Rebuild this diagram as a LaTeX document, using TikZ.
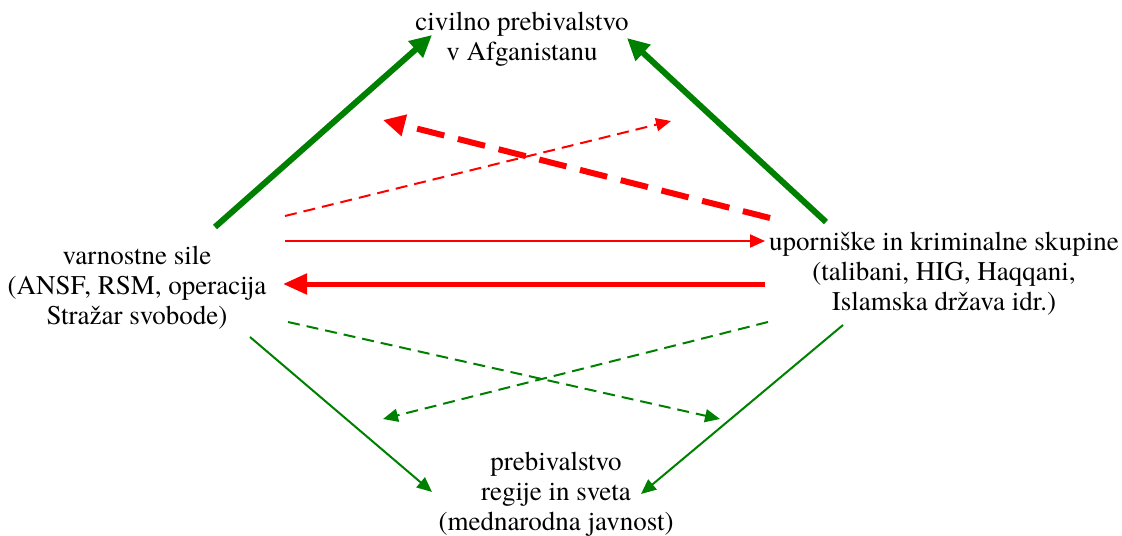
\documentclass[tikz,border=0pt]{standalone}
\usepackage{fontspec}
\setmainfont{texgyretermes}[Extension=.otf, UprightFont=*-regular, BoldFont=*-bold]
\usetikzlibrary{arrows.meta}
\definecolor{darkgreen}{RGB}{0, 128, 0}
\definecolor{pureRed}{RGB}{255, 0, 0}

\begin{document}
\begin{tikzpicture}[x=0.5pt, y=-0.5pt,
    group/.style={align=center, font=\fontsize{13.5}{15}\selectfont, inner sep=0pt},
    thinarrow/.style={line width=1pt, -{Triangle[length=7.5pt, width=6.5pt]}},
    thickarrow/.style={line width=3pt, -{Triangle[length=11pt, width=10.5pt]}},
    thindash/.style={dash pattern=on 6pt off 3.5pt}]
          \useasboundingbox (0,0) rectangle (1122,535);
          % Groups
          \node[group] (civil) at (522,39) {civilno prebivalstvo\\v Afganistanu};
          \node[group] (forces) at (137,288) {varnostne sile\\(ANSF, RSM, operacija\\Stražar svobode)};
          \node[group] (insurg) at (944,274) {uporniške in kriminalne skupine\\(talibani, HIG, Haqqani,\\Islamska država idr.)};
          \node[group] (world) at (556,494) {prebivalstvo\\regije in sveta\\(mednarodna javnost)};
          % Arrow ends
          \coordinate (fUp) at (215,227);   \coordinate (cL) at (432,35);
          \coordinate (iUp) at (826,222);   \coordinate (cR) at (627,38);
          \coordinate (iDash) at (770,218); \coordinate (dL) at (383,120);
          \coordinate (fDash) at (285,216); \coordinate (dR) at (671,121);
          \coordinate (fMid) at (285,241);  \coordinate (iMid) at (765,241);
          \coordinate (iLow) at (765,284);  \coordinate (fLow) at (283,284);
          \coordinate (fGd) at (288,322);   \coordinate (gR) at (720,419);
          \coordinate (iGd) at (768,322);   \coordinate (gL) at (383,419);
          \coordinate (fDown) at (250,337); \coordinate (wL) at (432,492);
          \coordinate (iDown) at (843,325); \coordinate (wR) at (641,494);
          % To civilians
          \draw[thickarrow, darkgreen] (fUp) -- (cL);
          \draw[thickarrow, darkgreen] (iUp) -- (cR);
          \draw[thickarrow, pureRed, dash pattern=on 14pt off 7pt] (iDash) -- (dL);
          \draw[thinarrow, pureRed, thindash] (fDash) -- (dR);
          % Between the sides
          \draw[thinarrow, pureRed] (fMid) -- (iMid);
          \draw[line width=2.5pt, pureRed, -{Triangle[length=12pt, width=10pt]}] (iLow) -- (fLow);
          % To the world
          \draw[thinarrow, darkgreen, thindash] (fGd) -- (gR);
          \draw[thinarrow, darkgreen, thindash] (iGd) -- (gL);
          \draw[thinarrow, darkgreen] (fDown) -- (wL);
          \draw[thinarrow, darkgreen] (iDown) -- (wR);
        \end{tikzpicture}
\end{document}
